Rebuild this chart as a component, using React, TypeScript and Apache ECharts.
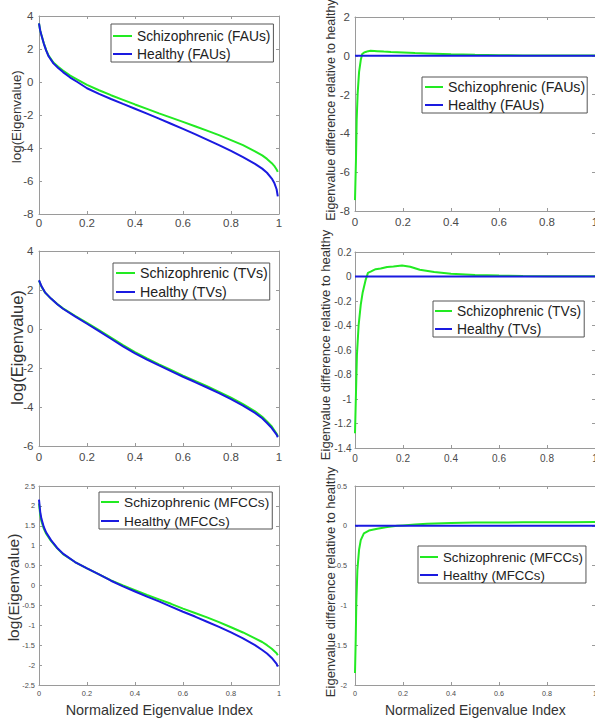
import React, { useEffect, useRef } from "react";
import * as echarts from "echarts";

// ---------- data ----------
const X_MIN = 0;
const X_MAX = 1;
const X_STEP = 0.2;

const FAU_X = [0, 0.005, 0.01, 0.02, 0.03, 0.04, 0.06, 0.08, 0.1, 0.13, 0.16, 0.2, 0.25, 0.3, 0.35, 0.4, 0.45, 0.5, 0.55, 0.6, 0.65, 0.7, 0.75, 0.8, 0.85, 0.9, 0.93, 0.95, 0.97, 0.98, 0.99, 0.995];
const FAU_SCHIZO = [3.55, 3.12, 2.86, 2.35, 1.93, 1.6, 1.18, 0.92, 0.69, 0.39, 0.15, -0.17, -0.5, -0.8, -1.08, -1.36, -1.63, -1.9, -2.16, -2.42, -2.68, -2.95, -3.22, -3.52, -3.83, -4.2, -4.45, -4.66, -4.92, -5.08, -5.3, -5.45];
const FAU_HEALTHY = [3.55, 3.12, 2.85, 2.33, 1.9, 1.56, 1.13, 0.85, 0.6, 0.27, 0.0, -0.38, -0.72, -1.03, -1.33, -1.62, -1.92, -2.22, -2.53, -2.84, -3.16, -3.49, -3.83, -4.18, -4.55, -4.96, -5.25, -5.5, -5.85, -6.1, -6.5, -6.93];

const FAU_DIFF_X = [0, 0.004, 0.007, 0.011, 0.017, 0.024, 0.03, 0.037, 0.044, 0.055, 0.065, 0.08, 0.093, 0.12, 0.15, 0.2, 0.25, 0.3, 0.4, 0.5, 0.6, 0.7, 0.8, 0.9, 1];
const FAU_DIFF_SCHIZO = [-7.44, -5.4, -3.3, -1.95, -0.83, -0.22, 0.09, 0.16, 0.2, 0.24, 0.26, 0.25, 0.24, 0.22, 0.2, 0.17, 0.14, 0.12, 0.08, 0.05, 0.03, 0.02, 0.01, 0.01, 0.01];

const TV_X = [0, 0.01, 0.025, 0.05, 0.075, 0.1, 0.15, 0.2, 0.25, 0.3, 0.35, 0.4, 0.45, 0.5, 0.55, 0.6, 0.65, 0.7, 0.75, 0.8, 0.85, 0.9, 0.93, 0.95, 0.97, 0.99, 0.995];
const TV_SCHIZO = [2.48, 2.18, 1.87, 1.56, 1.29, 1.06, 0.68, 0.31, -0.06, -0.44, -0.83, -1.19, -1.51, -1.81, -2.1, -2.39, -2.66, -2.93, -3.22, -3.52, -3.85, -4.22, -4.5, -4.74, -5.0, -5.37, -5.5];
const TV_HEALTHY = [2.5, 2.2, 1.88, 1.56, 1.28, 1.04, 0.65, 0.27, -0.11, -0.5, -0.89, -1.25, -1.57, -1.87, -2.16, -2.45, -2.72, -3.0, -3.29, -3.6, -3.93, -4.3, -4.58, -4.82, -5.08, -5.42, -5.55];

const TV_DIFF_X = [0, 0.004, 0.008, 0.015, 0.024, 0.032, 0.044, 0.054, 0.065, 0.086, 0.107, 0.134, 0.16, 0.196, 0.23, 0.27, 0.33, 0.4, 0.5, 0.6, 0.7, 0.8, 0.9, 1];
const TV_DIFF_SCHIZO = [-1.28, -0.96, -0.64, -0.4, -0.23, -0.13, -0.03, 0.03, 0.04, 0.06, 0.065, 0.078, 0.082, 0.09, 0.08, 0.055, 0.036, 0.023, 0.012, 0.008, 0.005, 0.003, 0.002, 0.002];

const MFCC_X = [0, 0.005, 0.01, 0.02, 0.03, 0.05, 0.075, 0.1, 0.15, 0.2, 0.25, 0.3, 0.35, 0.4, 0.45, 0.5, 0.55, 0.6, 0.65, 0.7, 0.75, 0.8, 0.85, 0.9, 0.93, 0.95, 0.97, 0.99, 0.995];
const MFCC_SCHIZO = [2.06, 1.78, 1.62, 1.43, 1.3, 1.12, 0.94, 0.79, 0.59, 0.43, 0.28, 0.13, 0.0, -0.12, -0.24, -0.35, -0.46, -0.58, -0.69, -0.8, -0.92, -1.05, -1.18, -1.33, -1.42, -1.5, -1.59, -1.7, -1.75];
const MFCC_HEALTHY = [2.16, 1.85, 1.68, 1.47, 1.33, 1.14, 0.95, 0.8, 0.59, 0.43, 0.28, 0.12, -0.02, -0.15, -0.28, -0.4, -0.53, -0.66, -0.78, -0.91, -1.04, -1.18, -1.33, -1.5, -1.62, -1.71, -1.82, -1.97, -2.04];

const MFCC_DIFF_X = [0, 0.003, 0.0055, 0.01, 0.017, 0.024, 0.037, 0.058, 0.093, 0.134, 0.176, 0.2, 0.25, 0.3, 0.4, 0.5, 0.6, 0.7, 0.8, 0.9, 1];
const MFCC_DIFF_SCHIZO = [-1.85, -1.43, -0.97, -0.55, -0.3, -0.18, -0.095, -0.06, -0.036, -0.015, 0, 0.005, 0.015, 0.025, 0.035, 0.04, 0.042, 0.044, 0.045, 0.046, 0.048];

const BASE_X = [0, 1];
const BASE_DIFF = [0, 0];

const Y_RANGES = [
  [-8, 4, 2],
  [-8, 2, 2],
  [-6, 4, 2],
  [-1.4, 0.2, 0.2],
  [-2.5, 2.5, 0.5],
  [-2, 0.5, 0.5],
];

const FEATURES = ["FAUs", "TVs", "MFCCs"];
const Y_TITLE_LEFT = "log(Eigenvalue)";
const Y_TITLE_RIGHT = "Eigenvalue difference relative to healthy";
const X_TITLE = "Normalized Eigenvalue Index";

// ---------- style / layout ----------
const GREEN = "#22ea22";
const BLUE = "#1a1ae0";
const AXIS = "#9a9a9a";
const LABEL = "#4a4a4a";
const TITLE = "#333333";
const FONT = "Liberation Sans";

const PANELS = [
  { grid: { left: 39, top: 16, width: 240, height: 198 }, lab: 11.5, ym: 5.5, xm: 2.5,
    leg: { left: 111, top: 24, padding: [5, 3, 1, 2], gap: 4, iw: 19, fs: 13.8 } },
  { grid: { left: 355, top: 17, width: 240, height: 194 }, lab: 11.5, ym: 5, xm: 4.5,
    leg: { left: 422, top: 77, padding: [3, 2, 1, 3], gap: 4, iw: 18, fs: 14.2 } },
  { grid: { left: 39, top: 251, width: 240, height: 195 }, lab: 11.5, ym: 5.5, xm: 5,
    leg: { left: 113, top: 263, padding: [3, 2, 1, 3], gap: 5, iw: 19, fs: 14.2 } },
  { grid: { left: 355, top: 252, width: 240, height: 196 }, lab: 10, ym: 3.5, xm: 5,
    leg: { left: 433, top: 301, padding: [3, 3, 1, 2], gap: 4, iw: 17, fs: 13.8 } },
  { grid: { left: 39, top: 486, width: 240, height: 199 }, lab: 7.4, ym: 4, xm: 5,
    leg: { left: 99, top: 492, padding: [3, 3, 1, 2], gap: 5, iw: 18, fs: 13.7 } },
  { grid: { left: 355, top: 486, width: 240, height: 199 }, lab: 7.2, ym: 8, xm: 5,
    leg: { left: 418, top: 546, padding: [4, 3, 1, 2], gap: 4, iw: 18, fs: 13.2 } },
];

const zip = (xs: number[], ys: number[]) => xs.map((x, i) => [x, ys[i]]);

function buildOption() {
  const grid: any[] = [];
  const xAxis: any[] = [];
  const yAxis: any[] = [];
  const series: any[] = [];
  const legend: any[] = [];

  const curves = [
    [zip(FAU_X, FAU_SCHIZO), zip(FAU_X, FAU_HEALTHY)],
    [zip(FAU_DIFF_X, FAU_DIFF_SCHIZO), zip(BASE_X, BASE_DIFF)],
    [zip(TV_X, TV_SCHIZO), zip(TV_X, TV_HEALTHY)],
    [zip(TV_DIFF_X, TV_DIFF_SCHIZO), zip(BASE_X, BASE_DIFF)],
    [zip(MFCC_X, MFCC_SCHIZO), zip(MFCC_X, MFCC_HEALTHY)],
    [zip(MFCC_DIFF_X, MFCC_DIFF_SCHIZO), zip(BASE_X, BASE_DIFF)],
  ];

  PANELS.forEach((p, i) => {
    const feat = FEATURES[Math.floor(i / 2)];
    const nS = `Schizophrenic (${feat})`;
    const nH = `Healthy (${feat})`;
    grid.push({ ...p.grid, show: false, containLabel: false, outerBoundsMode: "none" });
    const common = {
      type: "value",
      gridIndex: i,
      splitLine: { show: false },
      axisLine: { show: true, onZero: false, lineStyle: { color: AXIS, width: 1 } },
      axisTick: { show: true, inside: true, length: 3, lineStyle: { color: AXIS, width: 1 } },
    };
    const labelStyle = { color: LABEL, fontSize: p.lab, fontFamily: FONT };
    xAxis.push({ ...common, position: "bottom", min: X_MIN, max: X_MAX, interval: X_STEP,
      axisLabel: { show: true, margin: p.xm, ...labelStyle } });
    xAxis.push({ ...common, position: "top", min: X_MIN, max: X_MAX, interval: X_STEP,
      axisLabel: { show: false } });
    const [ymin, ymax, yint] = Y_RANGES[i];
    yAxis.push({ ...common, position: "left", min: ymin, max: ymax, interval: yint,
      axisLabel: { show: true, margin: p.ym, ...labelStyle } });
    yAxis.push({ ...common, position: "right", min: ymin, max: ymax, interval: yint,
      axisLabel: { show: false } });

    const [dS, dH] = curves[i];
    series.push({
      type: "line", name: nS, xAxisIndex: 2 * i, yAxisIndex: 2 * i, data: dS,
      symbol: "none", showSymbol: false, color: GREEN, lineStyle: { color: GREEN, width: 2 },
      itemStyle: { color: GREEN }, clip: true,
    });
    series.push({
      type: "line", name: nH, xAxisIndex: 2 * i, yAxisIndex: 2 * i, data: dH,
      symbol: "none", showSymbol: false, color: BLUE, lineStyle: { color: BLUE, width: 2 },
      itemStyle: { color: BLUE }, clip: true,
    });

    legend.push({
      show: true, orient: "vertical", left: p.leg.left, top: p.leg.top,
      padding: p.leg.padding, itemGap: p.leg.gap, itemWidth: p.leg.iw, itemHeight: 2,
      icon: "rect",
      data: [nS, nH], selectedMode: false, backgroundColor: "#ffffff",
      borderColor: "#555555", borderWidth: 1, borderRadius: 0,
      textStyle: { fontSize: p.leg.fs, fontFamily: FONT, color: "#222222", lineHeight: 14 },
    });
  });

  const rotText = (text: string, x: number, y: number, fs: number) => ({
    type: "text", x, y, rotation: Math.PI / 2, silent: true,
    style: { text, fontSize: fs, fontFamily: FONT, fill: TITLE,
      align: "center", verticalAlign: "middle", textAlign: "center", textVerticalAlign: "middle" },
  });
  const hText = (text: string, x: number, y: number, fs: number) => ({
    type: "text", x, y, silent: true,
    style: { text, fontSize: fs, fontFamily: FONT, fill: TITLE,
      align: "center", verticalAlign: "middle", textAlign: "center", textVerticalAlign: "middle" },
  });

  const graphic = [
    rotText(Y_TITLE_LEFT, 16.5, 116.7, 13.4),
    rotText(Y_TITLE_LEFT, 16.8, 347.5, 16.5),
    rotText(Y_TITLE_LEFT, 13.1, 587.5, 15.5),
    rotText(Y_TITLE_RIGHT, 330.8, 110, 12.5),
    rotText(Y_TITLE_RIGHT, 325.5, 345, 13),
    rotText(Y_TITLE_RIGHT, 330.5, 582, 13),
    hText(X_TITLE, 159.3, 710, 14.4),
    hText(X_TITLE, 475.3, 709.5, 13.9),
  ];

  return {
    animation: false,
    backgroundColor: "#ffffff",
    grid, xAxis, yAxis, series, legend, graphic,
  };
}

export default function App() {
  const ref = useRef<HTMLDivElement>(null);
  useEffect(() => {
    if (!ref.current) return;
    const chart = echarts.init(ref.current, undefined, { renderer: "svg" });
    chart.setOption(buildOption() as any);
    return () => chart.dispose();
  }, []);
  return (
    <div
      ref={ref}
      style={{ position: "absolute", left: 0, top: 0, width: 595, height: 719, background: "#fff" }}
    />
  );
}
